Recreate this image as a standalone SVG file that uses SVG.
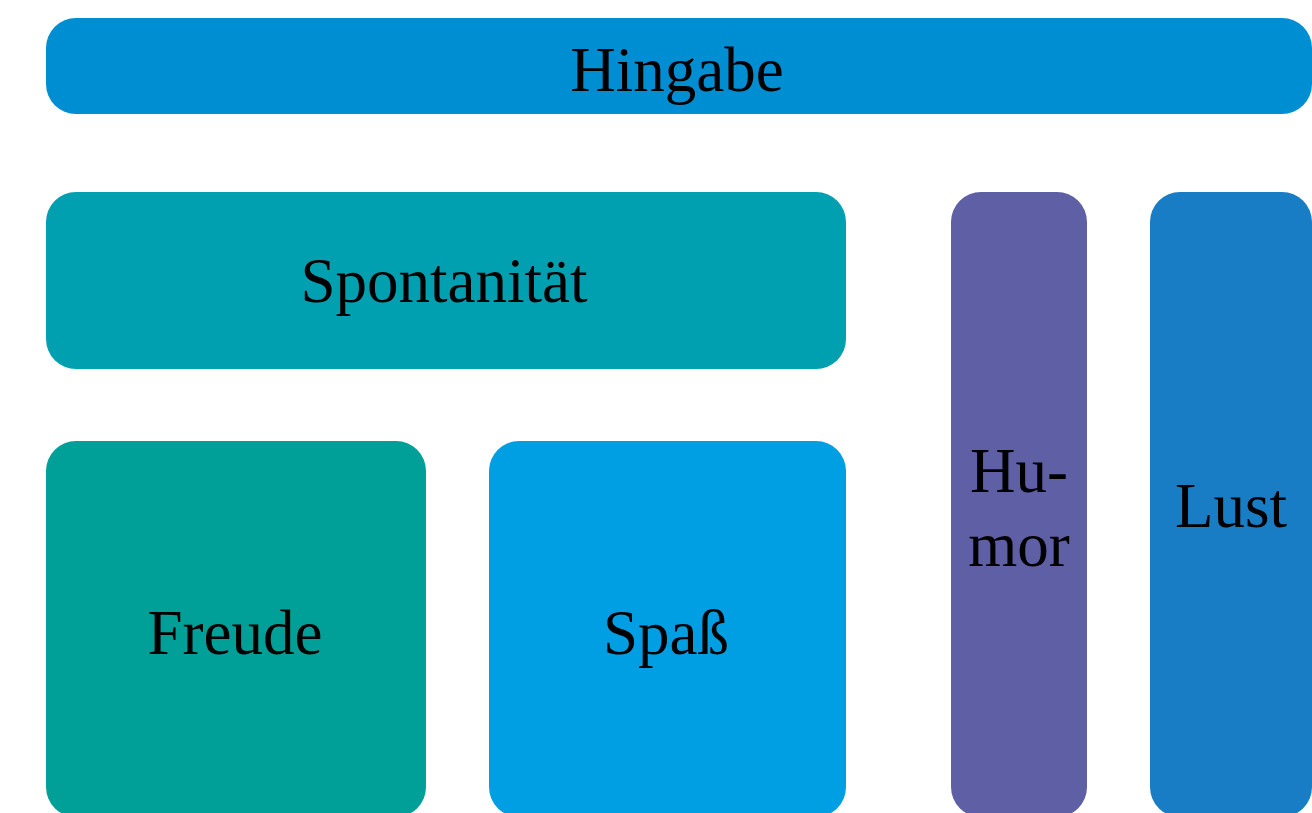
<svg xmlns="http://www.w3.org/2000/svg" width="1312" height="813" viewBox="0 0 1312 813">
<style>
text{font-family:"Liberation Serif","DejaVu Serif",serif;font-size:63px;fill:#000;text-anchor:middle}
</style>
<rect width="1312" height="813" fill="#fff"/>
<g id="hingabe"><rect x="46" y="18" width="1266" height="96" rx="30" fill="#008ED3"/><text x="677" y="91">Hingabe</text></g>
<g id="spontanitaet"><rect x="46" y="192" width="800" height="177" rx="30" fill="#00A0B1"/><text x="444" y="302">Spontanität</text></g>
<g id="freude"><rect x="46" y="441" width="380" height="376" rx="30" fill="#00A098"/><text x="235" y="654">Freude</text></g>
<g id="spass"><rect x="489" y="441" width="357" height="376" rx="30" fill="#009FE3"/><text x="666" y="654">Spaß</text></g>
<g id="humor"><rect x="951" y="192" width="136" height="625" rx="30" fill="#5F5FA6"/><text x="1019" y="492">Hu-</text><text x="1019" y="566">mor</text></g>
<g id="lust"><rect x="1150" y="192" width="162" height="625" rx="30" fill="#187DC4"/><text x="1231" y="527">Lust</text></g>
<g id="connectors"/>
</svg>
